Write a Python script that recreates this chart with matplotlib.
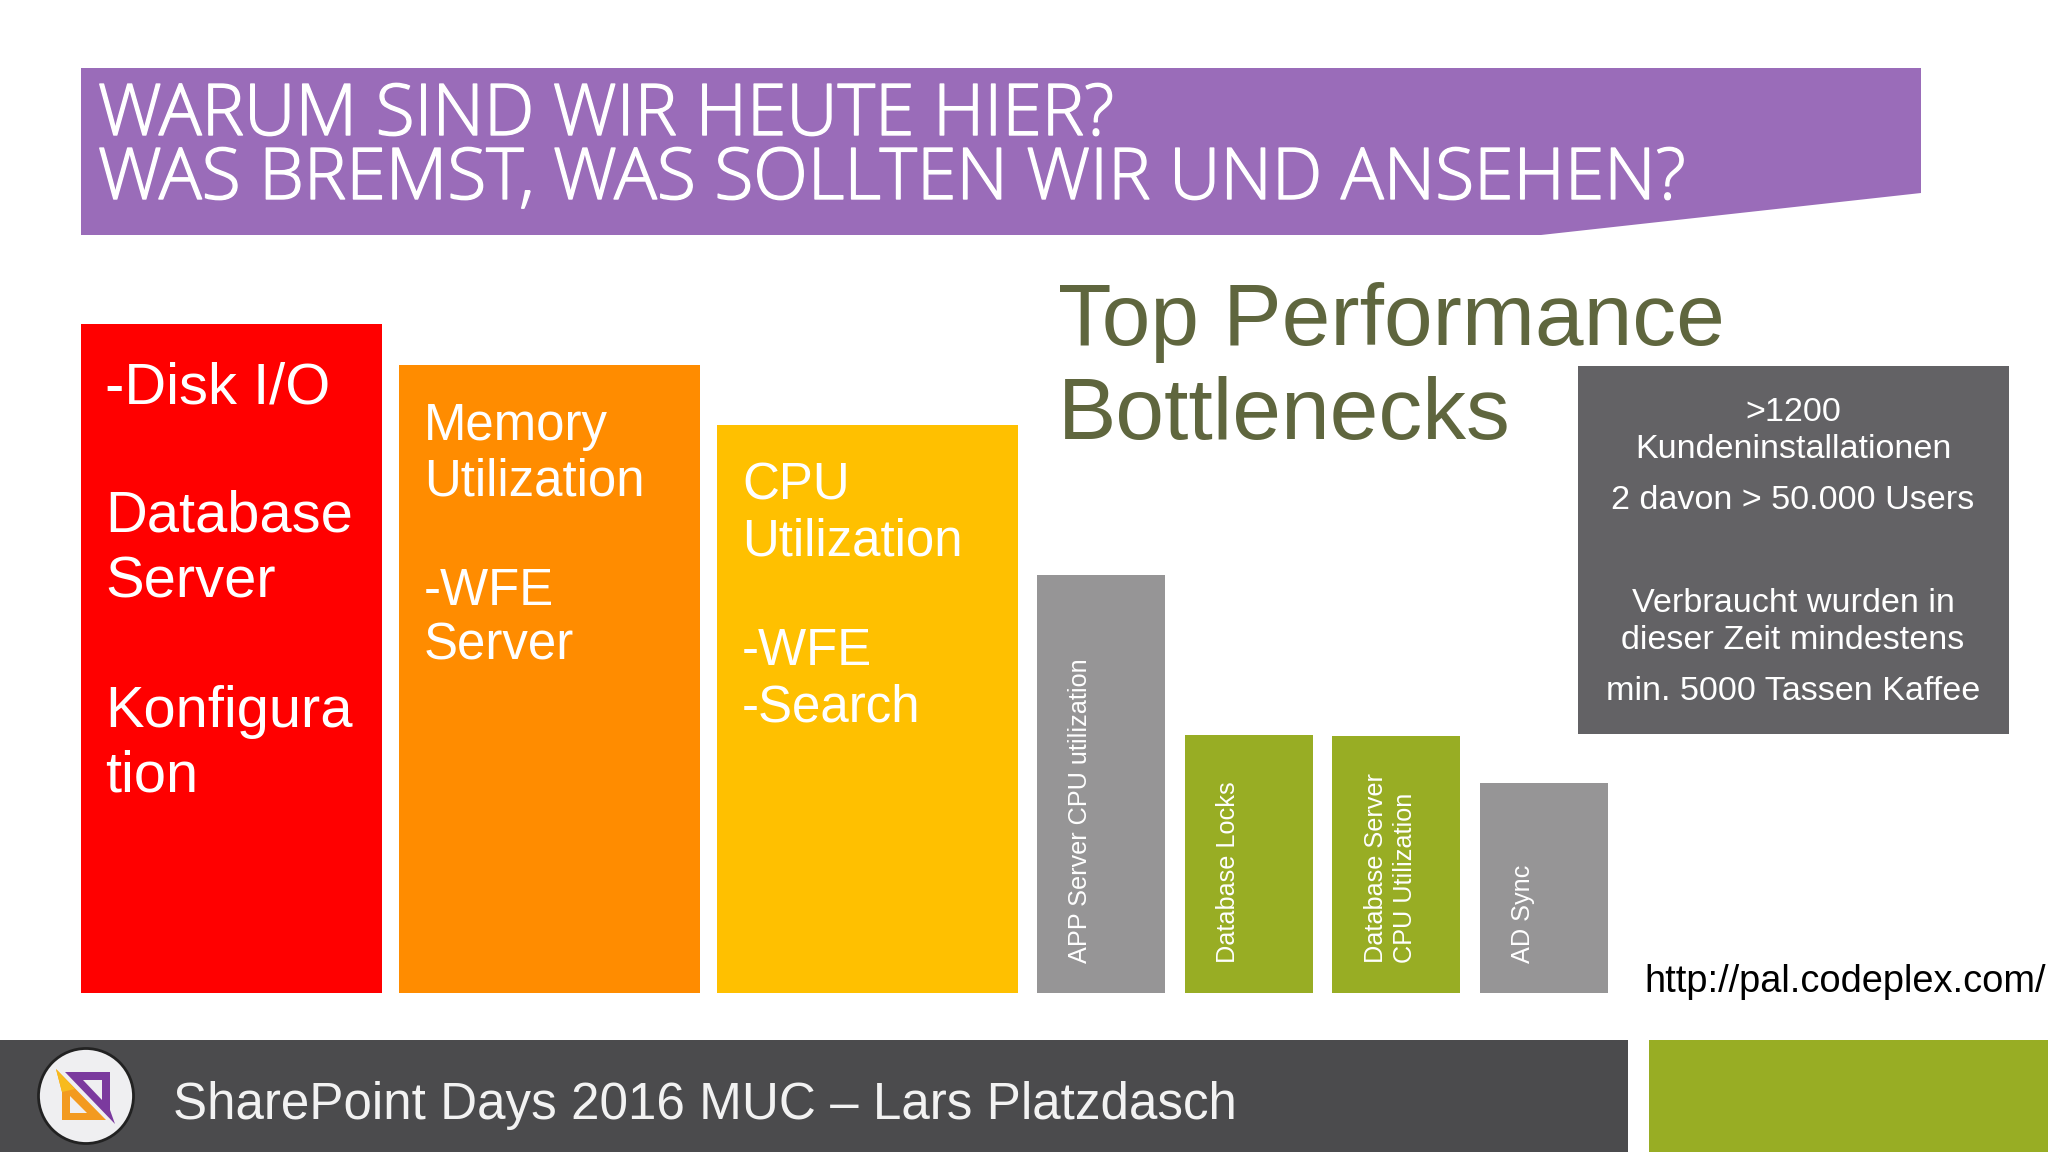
import matplotlib
matplotlib.use("Agg")
import matplotlib.pyplot as plt
import matplotlib.patheffects as pe
from matplotlib.patches import Polygon, Circle, Rectangle

# data
bar_lefts = [81, 399, 717, 1037, 1185, 1332, 1480]
bar_widths = [301, 301, 301, 128, 128, 128, 128]
bar_heights = [669, 628, 568, 418, 258, 257, 210]
bar_colors = ["#ff0000", "#ff8c00", "#ffc000", "#969596", "#98ad24", "#98ad24", "#969596"]

title_lines = ["WARUM SIND WIR HEUTE HIER?", "WAS BREMST, WAS SOLLTEN WIR UND ANSEHEN?"]
heading_lines = ["Top Performance", "Bottlenecks"]
red_lines = ["-Disk I/O", "Database", "Server", "Konfigura", "tion"]
orange_lines = ["Memory", "Utilization", "-WFE", "Server"]
yellow_lines = ["CPU", "Utilization", "-WFE", "-Search"]
box_lines = [">1200", "Kundeninstallationen", "2 davon > 50.000 Users",
             "Verbraucht wurden in", "dieser Zeit mindestens", "min. 5000 Tassen Kaffee"]
small_labels = ["APP Server CPU utilization", "Database Locks", "Database Server",
                "CPU Utilization", "AD Sync"]
footer_text = "SharePoint Days 2016 MUC – Lars Platzdasch"
url_text = "http://pal.codeplex.com/"

BODY = "Liberation Sans"
BASELINE = 993

fig = plt.figure(figsize=(20.48, 11.52), dpi=100, facecolor="white")

# bars, height in pixels above the common baseline
ax_bars = fig.add_axes([0, (1152 - BASELINE) / 1152, 1, BASELINE / 1152])
ax_bars.set_xlim(0, 2048)
ax_bars.set_ylim(0, BASELINE)
ax_bars.axis("off")
ax_bars.bar(bar_lefts, bar_heights, width=bar_widths, align="edge", color=bar_colors)

# everything else in image pixels
ax = fig.add_axes([0, 0, 1, 1], zorder=2)
ax.set_xlim(0, 2048)
ax.set_ylim(1152, 0)
ax.axis("off")
ax.patch.set_alpha(0)

ax.add_patch(Polygon([(81, 68), (1921, 68), (1921, 193), (1541, 235), (81, 235)], color="#9a6cb9", lw=0))
ax.add_patch(Rectangle((1578, 366), 431, 368, color="#636265", lw=0))
ax.add_patch(Rectangle((0, 1040), 1628, 112, color="#4b4b4d", lw=0))
ax.add_patch(Rectangle((1649, 1040), 399, 112, color="#98ad24", lw=0))


def put_lines(x, ys, lines, size, color="white", ha="left", **kw):
    kw.setdefault("family", BODY)
    for y, line in zip(ys, lines):
        ax.text(x, y, line, fontsize=size, color=color, ha=ha, va="baseline", **kw)


# title font is thin, a small stroke brings it closer to the slide
thick = [pe.withStroke(linewidth=1.0, foreground="white")]
put_lines(98, [135, 199], title_lines, 51.4, family="Open Sans", fontweight="light", path_effects=thick)
put_lines(1058, [345, 439], heading_lines, 63, color="#5f663e")
put_lines(105, [403, 532, 597, 727, 791], red_lines, 41.7)
put_lines(424, [440, 495, 605, 660], orange_lines, 36.7)
put_lines(742, [500, 555, 665, 721], yellow_lines, 36.7)
put_lines(1793, [421, 458, 509, 612, 649, 700], box_lines, 24.6, ha="center")

# rotated labels inside the small bars
for x, label in zip([1087, 1235, 1383, 1412, 1530], small_labels):
    ax.text(x, 963, label, fontsize=18.2, color="white", family=BODY,
            rotation=90, ha="left", va="baseline", rotation_mode="anchor")

ax.text(1644, 992, url_text, fontsize=27.35, color="black", family=BODY, va="baseline")
ax.text(173, 1119, footer_text, fontsize=36.8, color="#f2f2f2", family=BODY, va="baseline")

# logo
ax.add_patch(Circle((86, 1096), 47.5, fc="#efeff1", ec="#222222", lw=2))
ax.add_patch(Polygon([(65, 1072), (110, 1072), (110, 1110), (115, 1124), (65, 1072)], color="#7b3a9e", lw=0))
ax.add_patch(Polygon([(83, 1080), (102, 1080), (102, 1100)], color="#efeff1", lw=0))
ax.add_patch(Polygon([(56, 1069), (106, 1120), (62, 1120), (62, 1092)], color="#f39a1f", lw=0))
ax.add_patch(Polygon([(56, 1069), (75, 1089), (62, 1092)], color="#f7bb1d", lw=0))
ax.add_patch(Polygon([(70, 1096), (87, 1113), (70, 1113)], color="#efeff1", lw=0))

fig.savefig("out.png", dpi=100, facecolor="white")
